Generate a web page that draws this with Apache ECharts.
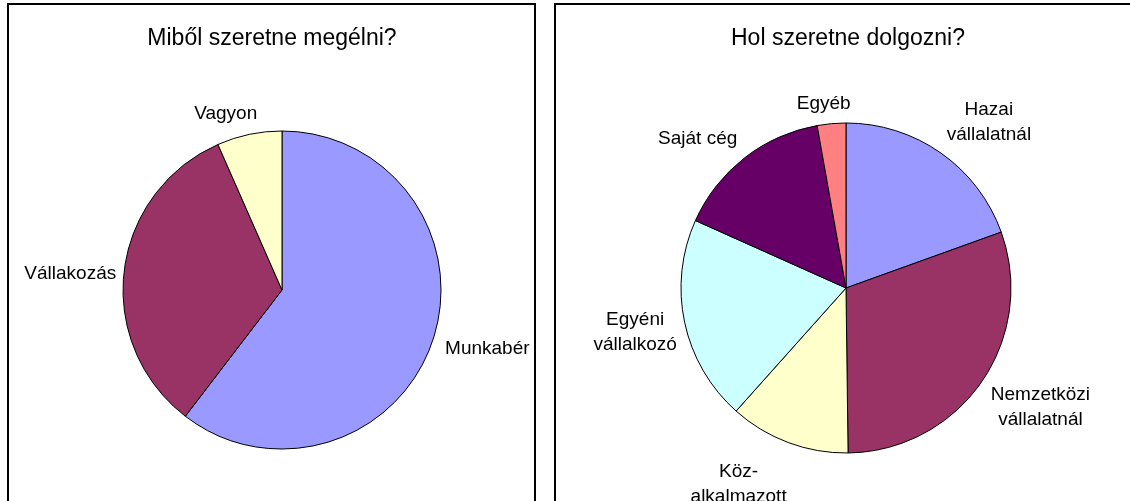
<!DOCTYPE html>
<html>
<head>
<meta charset="utf-8">
<script src="https://cdn.jsdelivr.net/npm/echarts@6/dist/echarts.min.js"></script>
<style>
html,body{margin:0;padding:0;background:#fff;}
#chart{width:1130px;height:501px;}
</style>
</head>
<body>
<div id="chart"></div>
<script>
// Left chart
const leftTitle = "Miből szeretne megélni?";
const leftCategories = ["Munkabér", "Vállakozás", "Vagyon"];
const leftValues = [60.4, 33.0, 6.6];
const leftColors = ["#9999FF", "#993366", "#FFFFCC"];

// Right chart
const rightTitle = "Hol szeretne dolgozni?";
const rightCategories = ["Hazai\nvállalatnál", "Nemzetközi\nvállalatnál", "Köz-\nalkalmazott", "Egyéni\nvállalkozó", "Saját cég", "Egyéb"];
const rightValues = [19.5, 30.3, 11.8, 20.1, 15.5, 2.8];
const rightColors = ["#9999FF", "#993366", "#FFFFCC", "#CCFFFF", "#660066", "#FF8080"];

// Label nudges (layout only, Excel-like label placement) [dx, dy]
const leftLabelNudges = [[-2, 5], [7, 4], [15, -11]];
const rightLabelNudges = [[-5, -23], [-4, 20], [7, 32], [7, 8], [4, -11], [25, -10]];

const FONT = "'Liberation Sans', Arial, sans-serif";

function toData(cats, vals, cols) {
  return cats.map((c, i) => ({ name: c, value: vals[i], itemStyle: { color: cols[i] } }));
}

function pieSeries(cats, vals, cols, center, radius, nudges) {
  return {
    type: 'pie',
    center: center,
    radius: radius,
    startAngle: 90,
    clockwise: true,
    avoidLabelOverlap: false,
    animation: false,
    silent: true,
    itemStyle: { borderColor: '#000', borderWidth: 1 },
    label: {
      show: true,
      position: 'outside',
      color: '#000',
      fontFamily: FONT,
      fontSize: 19,
      lineHeight: 25,
      formatter: '{b}'
    },
    labelLine: { show: false, length: 10, length2: 0 },
    labelLayout: function (p) {
      const r = p.labelRect;
      const n = nudges[p.dataIndex] || [0, 0];
      return {
        x: r.x + r.width / 2 + n[0],
        y: r.y + r.height / 2 + n[1],
        align: 'center',
        verticalAlign: 'middle'
      };
    },
    data: toData(cats, vals, cols)
  };
}

const chart = echarts.init(document.getElementById('chart'), null, { renderer: 'canvas' });
chart.setOption({
  backgroundColor: '#fff',
  animation: false,
  title: [
    { text: leftTitle, left: 272, top: 27, textAlign: 'center', padding: 0,
      textStyle: { fontFamily: FONT, fontSize: 23, fontWeight: 'normal', color: '#000' } },
    { text: rightTitle, left: 848, top: 27, textAlign: 'center', padding: 0,
      textStyle: { fontFamily: FONT, fontSize: 23, fontWeight: 'normal', color: '#000' } }
  ],
  graphic: [
    { type: 'rect', shape: { x: 8, y: 4, width: 527, height: 540 },
      style: { fill: 'none', stroke: '#000', lineWidth: 2 }, silent: true },
    { type: 'rect', shape: { x: 555, y: 4, width: 600, height: 540 },
      style: { fill: 'none', stroke: '#000', lineWidth: 2 }, silent: true }
  ],
  series: [
    pieSeries(leftCategories, leftValues, leftColors, [282, 290], 159, leftLabelNudges),
    pieSeries(rightCategories, rightValues, rightColors, [846, 288], 165, rightLabelNudges)
  ]
});
</script>
</body>
</html>
